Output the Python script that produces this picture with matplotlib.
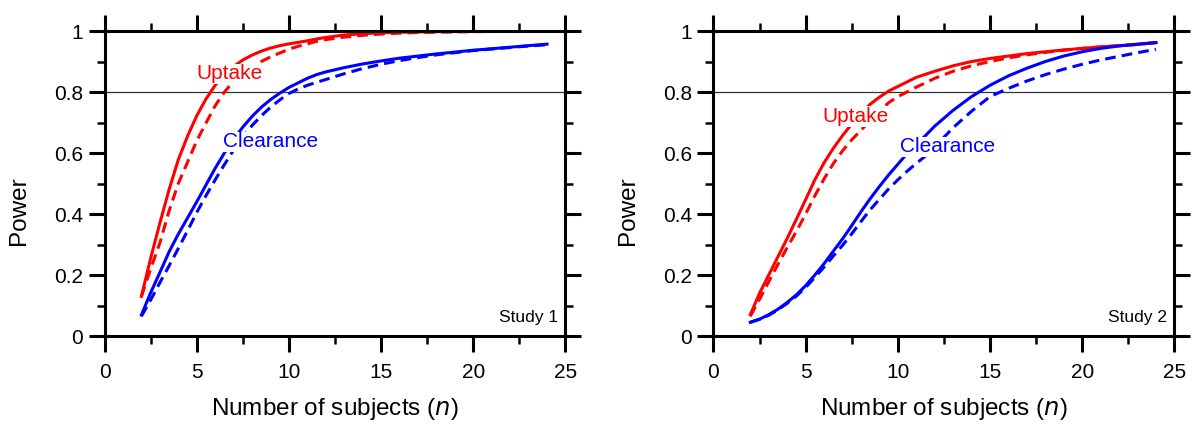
import matplotlib
matplotlib.use("Agg")
import matplotlib.pyplot as plt
from matplotlib.ticker import MultipleLocator, FuncFormatter

plt.rcParams["font.family"] = ["Liberation Sans", "DejaVu Sans"]

n = [2, 2.5, 3, 3.5, 4, 4.5, 5, 5.5, 6, 6.5, 7, 7.5, 8, 8.5, 9, 9.5, 10, 10.5, 11, 11.5, 12,
     13, 14, 15, 16, 17, 18, 19, 20, 21, 22, 23, 24]

# Study 1
s1_uptake_solid = [0.13, 0.255, 0.37, 0.48, 0.578, 0.655, 0.722, 0.777, 0.822, 0.857, 0.884, 0.905,
                   0.921, 0.934, 0.944, 0.952, 0.958, 0.963, 0.968, 0.974, 0.979,
                   0.987, 0.991, 0.994, 0.996, 0.997, 0.998, 0.9985, 0.999, 0.9995, 1.0, 1.0, 1.0]
s1_uptake_dash = [0.13, 0.22, 0.305, 0.41, 0.5, 0.57, 0.64, 0.698, 0.755, 0.8, 0.835, 0.86,
                  0.882, 0.9, 0.915, 0.928, 0.94, 0.95, 0.958, 0.966, 0.972,
                  0.98, 0.986, 0.99, 0.993, 0.995, 0.996, 0.997, 0.998, 0.9985, 0.999, 0.9995, 1.0]
s1_clear_solid = [0.069, 0.142, 0.208, 0.276, 0.334, 0.387, 0.44, 0.495, 0.55, 0.6, 0.645, 0.685,
                  0.72, 0.75, 0.775, 0.796, 0.815, 0.83, 0.845, 0.857, 0.866,
                  0.88, 0.892, 0.902, 0.911, 0.918, 0.925, 0.931, 0.937, 0.942, 0.947, 0.952, 0.957]
s1_clear_dash = [0.065, 0.118, 0.175, 0.23, 0.287, 0.345, 0.405, 0.46, 0.512, 0.562, 0.61, 0.652,
                 0.69, 0.722, 0.75, 0.774, 0.795, 0.81, 0.822, 0.832, 0.841,
                 0.86, 0.877, 0.891, 0.903, 0.913, 0.922, 0.929, 0.936, 0.941, 0.946, 0.951, 0.955]

# Study 2
s2_uptake_solid = [0.07, 0.14, 0.2, 0.26, 0.32, 0.383, 0.447, 0.512, 0.568, 0.615, 0.657, 0.695,
                   0.728, 0.76, 0.783, 0.803, 0.818, 0.833, 0.848, 0.858, 0.868,
                   0.886, 0.9, 0.91, 0.918, 0.926, 0.932, 0.938, 0.943, 0.948, 0.952, 0.956, 0.962]
s2_uptake_dash = [0.065, 0.12, 0.178, 0.235, 0.29, 0.343, 0.4, 0.46, 0.515, 0.565, 0.607, 0.643,
                  0.675, 0.705, 0.735, 0.765, 0.785, 0.8, 0.816, 0.83, 0.845,
                  0.868, 0.886, 0.9, 0.912, 0.922, 0.93, 0.937, 0.943, 0.948, 0.952, 0.956, 0.962]
s2_clear_solid = [0.045, 0.055, 0.07, 0.088, 0.11, 0.135, 0.165, 0.2, 0.237, 0.278, 0.318, 0.362,
                  0.407, 0.45, 0.49, 0.528, 0.563, 0.598, 0.628, 0.657, 0.688,
                  0.74, 0.785, 0.822, 0.853, 0.878, 0.9, 0.918, 0.932, 0.943, 0.951, 0.957, 0.962]
s2_clear_dash = [0.045, 0.055, 0.068, 0.086, 0.107, 0.131, 0.159, 0.192, 0.226, 0.262, 0.297, 0.335,
                 0.375, 0.414, 0.448, 0.482, 0.512, 0.54, 0.566, 0.59, 0.62,
                 0.683, 0.737, 0.785, 0.812, 0.836, 0.857, 0.875, 0.891, 0.905, 0.917, 0.929, 0.94]

panels = [
    dict(rect=[0.0877, 0.2094, 0.3867, 0.7176], name="Study 1",
         curves=(s1_uptake_solid, s1_uptake_dash, s1_clear_solid, s1_clear_dash),
         uptake_pos=(5.0, 0.86), clear_pos=(6.4, 0.637)),
    dict(rect=[0.5985, 0.2094, 0.3867, 0.7176], name="Study 2",
         curves=(s2_uptake_solid, s2_uptake_dash, s2_clear_solid, s2_clear_dash),
         uptake_pos=(5.9, 0.72), clear_pos=(10.1, 0.62)),
]

fig = plt.figure(figsize=(11.92, 4.25), dpi=100)

for p in panels:
    ax = fig.add_axes(p["rect"])
    up_s, up_d, cl_s, cl_d = p["curves"]
    lw = 2.2
    dash = (0, (3.5, 2))
    ax.axhline(0.8, color="#333333", lw=0.9, zorder=1)
    ax.plot(n, up_s, color="#ff0000", lw=lw, zorder=2, solid_joinstyle="round")
    ax.plot(n, up_d, color="#ff0000", lw=lw, ls=dash, zorder=2, dash_joinstyle="round")
    ax.plot(n, cl_s, color="#0000ff", lw=lw, zorder=2, solid_joinstyle="round")
    ax.plot(n, cl_d, color="#0000ff", lw=lw, ls=dash, zorder=2, dash_joinstyle="round")

    box = dict(fc="white", ec="none", pad=0.5)
    ax.text(*p["uptake_pos"], "Uptake", color="#ff0000", fontsize=15, va="center", ha="left",
            bbox=box, zorder=3)
    ax.text(*p["clear_pos"], "Clearance", color="#0000ff", fontsize=15, va="center", ha="left",
            bbox=box, zorder=3)
    ax.text(0.985, 0.035, p["name"], transform=ax.transAxes, fontsize=12.5, ha="right",
            va="bottom", zorder=3)

    ax.set_xlim(0, 25)
    ax.set_ylim(0, 1)
    ax.xaxis.set_major_locator(MultipleLocator(5))
    ax.xaxis.set_minor_locator(MultipleLocator(2.5))
    ax.yaxis.set_major_locator(MultipleLocator(0.2))
    ax.yaxis.set_minor_locator(MultipleLocator(0.1))
    ax.yaxis.set_major_formatter(FuncFormatter(lambda v, pos: "%g" % round(v, 2)))

    for s in ax.spines.values():
        s.set_linewidth(2.2)
    ax.tick_params(which="both", direction="out", top=True, right=True, labelsize=15)
    ax.tick_params(which="major", length=11.5, width=2.2)
    ax.tick_params(which="minor", length=6, width=1.8)
    ax.tick_params(axis="x", which="major", pad=8)
    ax.tick_params(axis="y", which="major", pad=4)

    ax.set_xlabel("Number of subjects ($\\it{n}$)", fontsize=17.5, labelpad=10)
    ax.set_ylabel("Power", fontsize=17.5)
    ax.yaxis.set_label_coords(-0.162, 0.41)

fig.savefig("out.png", dpi=100)
